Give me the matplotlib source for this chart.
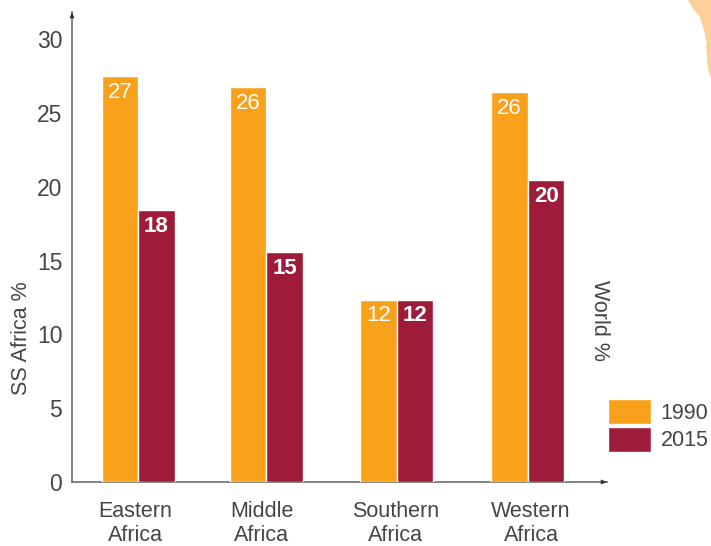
import numpy as np
import matplotlib
matplotlib.use("Agg")
import matplotlib.pyplot as plt
from matplotlib.patches import Polygon
from matplotlib.transforms import ScaledTranslation

categories = ["Eastern\nAfrica", "Middle\nAfrica", "Southern\nAfrica", "Western\nAfrica"]
values_1990 = [27.5, 26.75, 12.35, 26.4]
values_2015 = [18.4, 15.55, 12.35, 20.45]
labels_1990 = ["27", "26", "12", "26"]
labels_2015 = ["18", "15", "12", "20"]
yticks = [0, 5, 10, 15, 20, 25, 30]

W, H = 711, 546
ORANGE, MAROON, TXT, AX = "#F9A11B", "#9E1B39", "#454545", "#6E6E6E"
plt.rcParams["font.family"] = ["Liberation Sans", "DejaVu Sans"]

fig = plt.figure(figsize=(W / 100, H / 100), dpi=100)
L, R, T, B = 72, 607, 12, 482
ax = fig.add_axes([L / W, 1 - B / H, (R - L) / W, (B - T) / H])
ax.set_ylim(0, (B - T) / 14.76)
ax.set_xlim(-0.508, 3.608)
x = np.array([0, 0.988, 1.992, 3.0])
w = 0.281

b1 = ax.bar(x - w / 2, values_1990, w, color=ORANGE, edgecolor="white", linewidth=1.0, zorder=3, label="1990")
b2 = ax.bar(x + w / 2, values_2015, w, color=MAROON, edgecolor="white", linewidth=1.0, zorder=3, label="2015")

for xi, v, s in zip(x - w / 2, values_1990, labels_1990):
    ax.annotate(s, (xi, v), xytext=(0, -4), textcoords="offset points", ha="center", va="top",
                color="white", fontsize=16, zorder=4)
for xi, v, s in zip(x + w / 2, values_2015, labels_2015):
    ax.annotate(s, (xi, v), xytext=(0, -4), textcoords="offset points", ha="center", va="top",
                color="white", fontsize=16, fontweight="bold", zorder=4)

for s in ("top", "right"):
    ax.spines[s].set_visible(False)
for s in ("left", "bottom"):
    ax.spines[s].set_color(AX)
    ax.spines[s].set_linewidth(1.2)

ax.set_yticks(yticks)
ax.set_xticks(x, categories)
ax.tick_params(axis="both", length=0, labelcolor=TXT)
ax.tick_params(axis="y", pad=7, labelsize=16.5)
ax.tick_params(axis="x", pad=14, labelsize=15.5)
label_nudges = [-3, -5, -1, 3]
for lab, dx in zip(ax.get_xticklabels(), label_nudges):
    lab.set_linespacing(1.18)
    lab.set_transform(lab.get_transform() + ScaledTranslation(dx / 100, 0, fig.dpi_scale_trans))

fig.text(22 / W, 1 - 338 / H, "SS Africa %", rotation=90, ha="center", va="center", fontsize=15.5, color=TXT)
fig.text(600 / W, 1 - 320 / H, "World %", rotation=-90, ha="center", va="center", fontsize=15.5, color=TXT)

arrow = dict(arrowstyle="-|>,head_length=0.45,head_width=0.18", color="#333333", lw=0, shrinkA=0, shrinkB=0)
ax.annotate("", xy=(0, 1), xytext=(0, 0.97), xycoords="axes fraction", textcoords="axes fraction", arrowprops=arrow)
ax.annotate("", xy=(1, 0), xytext=(0.975, 0), xycoords="axes fraction", textcoords="axes fraction", arrowprops=arrow)

ax.legend(handles=[b1, b2], loc="upper left", bbox_to_anchor=(607.5 / W, 1 - 399 / H),
          bbox_transform=fig.transFigure, frameon=False, fontsize=15.5, borderpad=0, borderaxespad=0,
          handlelength=2.02, handleheight=1.4, handletextpad=0.45, labelspacing=0.14, labelcolor=TXT)

# decorative map fragment in the top-right corner
corner = [(688, 0), (694, 10), (700, 17), (704, 30), (707, 43), (706, 46), (708, 70), (711, 78), (711, 0)]
fig.add_artist(Polygon([(px / W, 1 - py / H) for px, py in corner], closed=True,
                       transform=fig.transFigure, facecolor="#FDD09A", edgecolor="none"))

fig.savefig("out.png", dpi=100)
